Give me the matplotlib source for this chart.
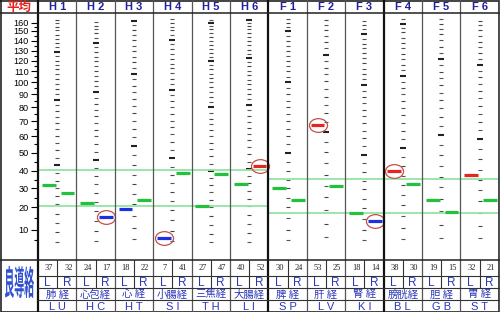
import numpy as np
import matplotlib
matplotlib.use('Agg')
import matplotlib.pyplot as plt
from matplotlib.path import Path
from matplotlib.transforms import Affine2D
from matplotlib.textpath import TextPath
from matplotlib.patches import PathPatch
from matplotlib.font_manager import FontProperties

# meridian columns
cols = ['H1', 'H2', 'H3', 'H4', 'H5', 'H6', 'F1', 'F2', 'F3', 'F4', 'F5', 'F6']
names = ['肺 経', '心包経', '心 経', '小腸経', '三焦経', '大腸経',
         '脾 経', '肝 経', '腎 経', '膀胱経', '胆 経', '胃 経']
abbr = ['LU', 'HC', 'HT', 'SI', 'TH', 'LI', 'SP', 'LV', 'KI', 'BL', 'GB', 'ST']

# raw readings (bottom row)
raw_L = [37, 24, 18, 7, 27, 40, 30, 53, 18, 38, 19, 32]
raw_R = [32, 17, 22, 41, 47, 52, 24, 25, 14, 30, 15, 21]

# where the bars sit on the average scale
val_L = [31.7, 22.1, 19.2, 5.9, 20.8, 32.4, 30.0, 67.5, 17.4, 39.7, 23.8, 37.6]
val_R = [27.4, 15.7, 24.0, 38.7, 38.1, 42.8, 23.7, 31.3, 13.8, 32.6, 18.1, 24.0]

# circled (extreme) points
circ_L = [0, 0, 0, 1, 0, 0, 0, 1, 0, 1, 0, 0]
circ_R = [0, 1, 0, 0, 0, 1, 0, 0, 1, 0, 0, 0]

# scale factor of each column's ruler
col_scale = [0.86, 0.92, 1.08, 0.94, 0.80, 0.82, 1.0, 1.26, 0.98, 1.06, 1.22, 1.16]

# normal band (lower, upper) for hands and feet
h_band = [20.5, 40.3]
f_band = [17.3, 35.5]

# the vertical scale is not linear: value -> pixel row of the original
knot_vals = np.array([-10, 0, 5, 10, 20, 30, 40, 50, 60, 70, 80, 90, 100,
                      110, 120, 130, 140, 150, 160, 175], dtype=float)
knot_px = np.array([272, 251, 240, 229.5, 207.3, 188.3, 170.7, 152.7, 136,
                    121.3, 107.3, 94.3, 82.3, 71.3, 61, 50.7, 40.7, 30.7,
                    22.7, 10.7])


def fwd(v):
    return -np.interp(v, knot_vals, knot_px)


def inv(u):
    return np.interp(-np.asarray(u), knot_px[::-1], knot_vals[::-1])


GREEN = '#22c23c'
RED = '#e62420'
BLUE = '#1f30e0'
TXT_BLUE = '#2a35b8'
W, H = 500, 312
x0, cw = 38, 38.4

fig = plt.figure(figsize=(5, 3.12), dpi=100)
fig.patch.set_facecolor('white')

ax = fig.add_axes([x0 / W, 52 / H, 12 * cw / W, 247 / H])
ax.set_yscale('function', functions=(fwd, inv))
ax.set_xlim(0, 12)
ax.set_ylim(float(inv(-260)), float(inv(-13)))
for s in ax.spines.values():
    s.set_visible(False)
ax.set_xticks([])
ax.set_yticks(range(10, 161, 10))
ax.set_yticks(range(5, 160, 10), minor=True)
ax.tick_params(axis='y', which='major', length=5, width=0.8, labelsize=6.6, pad=1.5)
ax.tick_params(axis='y', which='minor', length=3, width=0.8)
for lab in ax.get_yticklabels():
    lab.set_family('Liberation Sans')

# rulers in each column
for i, s in enumerate(col_scale):
    raw = np.arange(5, 300, 5)
    disp = raw * s
    keep = disp <= 165
    raw, disp = raw[keep], disp[keep]
    xs = np.full(len(raw), i + 0.5)
    m10 = raw % 10 == 0
    m50 = raw % 50 == 0
    ax.plot(xs[~m10], disp[~m10], ls='none', marker='_', ms=2.5, mew=0.8, color='#555555')
    ax.plot(xs[m10 & ~m50], disp[m10 & ~m50], ls='none', marker='_', ms=3.5, mew=0.8, color='#444444')
    ax.plot(xs[m50], disp[m50], ls='none', marker='_', ms=4, mew=1.5, color='#222222')

# normal bands
ax.hlines(h_band, 0, 6, color='#94e4a2', lw=1.3, zorder=3)
ax.hlines(f_band, 6, 12, color='#94e4a2', lw=1.3, zorder=3)

ell = Path.unit_circle().transformed(Affine2D().scale(1.0, 0.76))
for i in range(12):
    band = h_band if i < 6 else f_band
    for v, off, circ in ((val_L[i], 0.28, circ_L[i]), (val_R[i], 0.77, circ_R[i])):
        c = RED if v > band[1] else (BLUE if v < band[0] else GREEN)
        ax.hlines(v, i + off - 0.18, i + off + 0.18, color=c, lw=2.3, zorder=4)
        if circ:
            ax.plot(i + off, v, marker=ell, ms=13, mfc='none', mec='#c4504a',
                    mew=0.9, ls='none', zorder=5)

# frame, header and table
fr = fig.add_axes([0, 0, 1, 1])
fr.set_xlim(0, W)
fr.set_ylim(H, 0)
fr.axis('off')
fr.set_zorder(5)

xr = x0 + 12 * cw
fr.plot([0.5, xr, xr, 0.5, 0.5], [0.5, 0.5, H - 0.5, H - 0.5, 0.5], color='#222222', lw=1.2)
for k in range(13):
    xb = x0 + k * cw
    thick = k in (0, 6, 9)
    fr.plot([xb, xb], [0, H], color='#111111' if thick else '#555555',
            lw=1.6 if thick else 0.9)
for yb in (13, 260):
    fr.plot([0, xr], [yb, yb], color='#222222', lw=1.1)
for yb in (276, 288, 300):
    fr.plot([x0, xr], [yb, yb], color='#333333', lw=0.8)
for k in range(12):
    xm = x0 + k * cw + cw / 2
    fr.plot([xm, xm], [260, 288], color='#333333', lw=0.8)

cjk = ['Noto Sans CJK JP', 'DejaVu Sans']
fr.text(x0 / 2, 7, '平均', color='#e8201c', fontsize=9, fontweight='bold',
        family=cjk, ha='center', va='center')
for i in range(12):
    xc = x0 + (i + 0.5) * cw
    fr.text(xc, 7, cols[i][0] + ' ' + cols[i][1], color='#20209a', fontsize=8,
            fontweight='bold', family='Liberation Sans', ha='center', va='center')
    fr.text(xc - cw / 4 + 1.5, 268.5, str(raw_L[i]), fontsize=6, family='Liberation Serif',
            ha='center', va='center', color='#222222')
    fr.text(xc + cw / 4 + 1.5, 268.5, str(raw_R[i]), fontsize=6, family='Liberation Serif',
            ha='center', va='center', color='#222222')
    fr.text(xc - cw / 4, 282.5, 'L', fontsize=8.5, family='Liberation Sans',
            ha='center', va='center', color=TXT_BLUE)
    fr.text(xc + cw / 4, 282.5, 'R', fontsize=8.5, family='Liberation Sans',
            ha='center', va='center', color=TXT_BLUE)
    fr.text(xc, 294.5, names[i], fontsize=7.5, family=cjk,
            ha='center', va='center', color=TXT_BLUE)
    fr.text(xc, 306.5, abbr[i][0] + ' ' + abbr[i][1], fontsize=8, family='Liberation Sans',
            ha='center', va='center', color=TXT_BLUE)

# logo
tp = TextPath((0, 0), '良導絡', size=10,
              prop=FontProperties(family='Noto Sans CJK JP', weight='bold'))
bb = tp.get_extents()
tr = Affine2D().translate(-bb.x0, -bb.y0).scale(29 / bb.width, -32 / bb.height).translate(5, 298)
fr.add_patch(PathPatch(tr.transform_path(tp), fc='#3050d0', ec='none'))

fig.savefig('out.png', dpi=100, facecolor='white')
